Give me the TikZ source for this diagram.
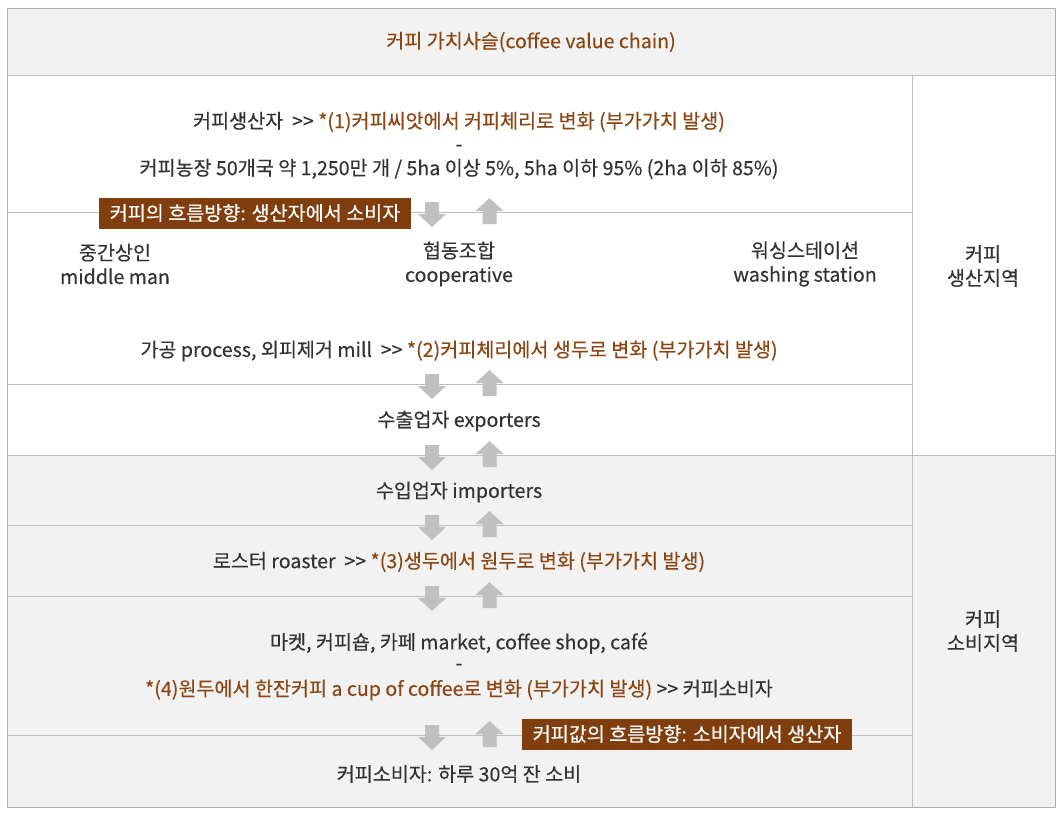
\documentclass[tikz,border=0pt]{standalone}
\usepackage{fontspec}
\setmainfont{Noto Sans CJK KR}[FakeBold=0.3]

\definecolor{coffeebrown}{RGB}{128,62,15}
\definecolor{textbrown}{RGB}{140,70,20}
\definecolor{textgray}{RGB}{51,51,51}
\definecolor{panelgray}{RGB}{242,242,242}
\definecolor{rulegray}{RGB}{190,190,190}
\definecolor{framegray}{RGB}{175,175,175}
\definecolor{arrowgray}{RGB}{192,192,192}

\begin{document}
\begin{tikzpicture}[x=1pt,y=-1pt]
  \tikzstyle{txt} = [text=textgray, font=\fontsize{19.6}{24}\selectfont, align=center, inner sep=0pt];
  \tikzstyle{flowbox} = [fill=coffeebrown, text=white, font=\fontsize{19.6}{24}\selectfont, minimum height=31pt, inner sep=0pt];
  \tikzstyle{rule} = [draw=rulegray, line width=1pt];
  \tikzstyle{frame} = [draw=framegray, line width=1pt];
  \tikzstyle{arrowfill} = [fill=arrowgray];

  \useasboundingbox (0,0) rectangle (1062,815);
  \fill[white] (0,0) rectangle (1062,815);
  \fill[panelgray] (7,8) rectangle (1055,75);
  \fill[panelgray] (7,455) rectangle (1055,807);

  % rows and columns
  \foreach \ly in {212,384,525,596,735}
    \draw[rule] (7,\ly) -- (912,\ly);
  \draw[rule] (7,75) -- (1055,75);
  \draw[rule] (7,455) -- (1055,455);
  \draw[rule] (912,75) -- (912,807);
  \draw[frame] (7,8) rectangle (1055,807);

  % flow arrows
  \foreach \ly in {212,384,455,525,596,735} {
    \begin{scope}[shift={(0,\ly)}]
      \fill[arrowfill] (425,-10) -- (439,-10) -- (439,2) -- (446,2) -- (432,15) -- (418,2) -- (425,2) -- cycle;
      \fill[arrowfill] (482.5,12) -- (496.5,12) -- (496.5,-1) -- (503.5,-1) -- (489.5,-14) -- (475.5,-1) -- (482.5,-1) -- cycle;
    \end{scope}
  }

  \node[txt, text=textbrown] (title) at (531,42) {커피 가치사슬(coffee value chain)};

  \node[txt] (grower) at (459,122) {커피생산자\ \ >{}> \textcolor{textbrown}{*(1)커피씨앗에서 커피체리로 변화 (부가가치 발생)}};
  \node[txt] (growerdash) at (459,148) {-};
  \node[txt] (farm) at (459,169) {커피농장 50개국 약 1,250만 개 / 5ha 이상 5\%, 5ha 이하 95\% (2ha 이하 85\%)};

  \node[flowbox, minimum width=312pt] (coffeeflow) at (255,213) {커피의 흐름방향: 생산자에서 소비자};

  \node[txt] (middle) at (115,264) {중간상인\\middle man};
  \node[txt] (coop) at (459,264) {협동조합\\cooperative};
  \node[txt] (washing) at (805,264) {워싱스테이션\\washing station};
  \node[txt] (prodzone) at (983,266) {커피\\생산지역};

  \node[txt] (process) at (459,351) {가공 process, 외피제거 mill\ \ >{}> \textcolor{textbrown}{*(2)커피체리에서 생두로 변화 (부가가치 발생)}};
  \node[txt] (exporter) at (459,421) {수출업자 exporters};
  \node[txt] (importer) at (459,492) {수입업자 importers};
  \node[txt] (roaster) at (459,562) {로스터 roaster\ \ >{}> \textcolor{textbrown}{*(3)생두에서 원두로 변화 (부가가치 발생)}};

  \node[txt] (market) at (459,643) {마켓, 커피숍, 카페 market, coffee shop, café};
  \node[txt] (marketdash) at (459,667) {-};
  \node[txt] (cup) at (459,690) {\textcolor{textbrown}{*(4)원두에서 한잔커피 a cup of coffee로 변화 (부가가치 발생)} >{}> 커피소비자};

  \node[flowbox, minimum width=330pt] (moneyflow) at (687,734) {커피값의 흐름방향: 소비자에서 생산자};

  \node[txt] (consumer) at (459,774) {커피소비자: 하루 30억 잔 소비};
  \node[txt] (conszone) at (983,631) {커피\\소비지역};
\end{tikzpicture}
\end{document}
